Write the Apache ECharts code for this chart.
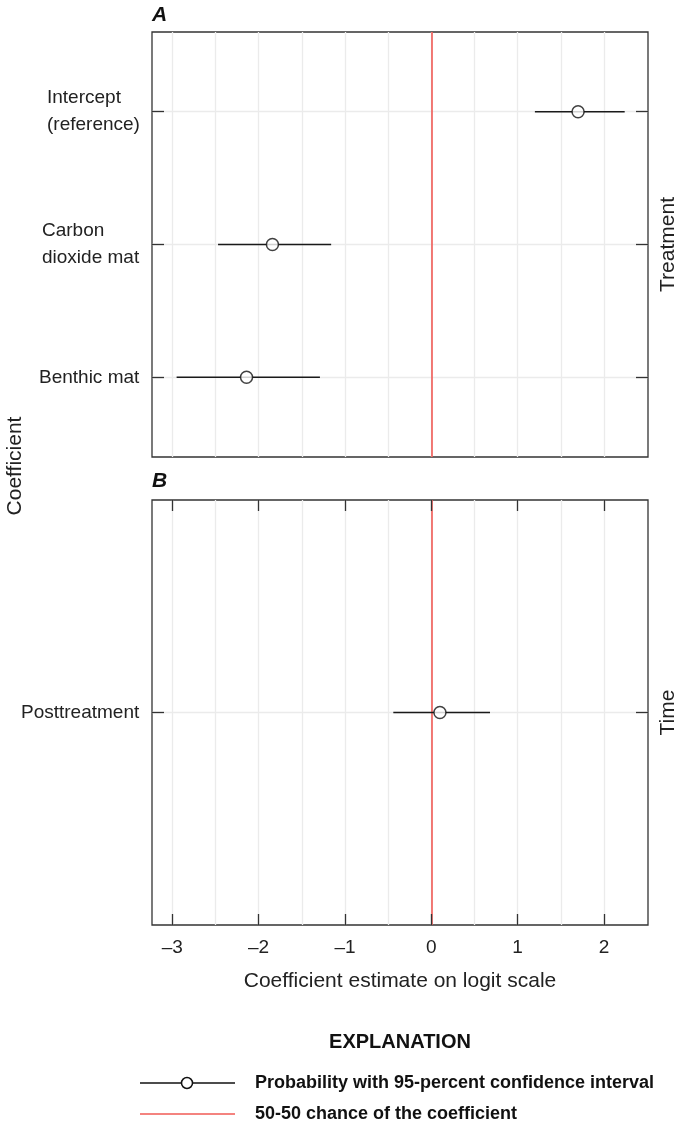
<!DOCTYPE html>
<html><head><meta charset="utf-8">
<script src="https://cdn.jsdelivr.net/npm/echarts@6/dist/echarts.min.js"></script>
<style>html,body{margin:0;padding:0;background:#fff}#c{width:676px;height:1124px}</style>
</head><body><div id="c"></div>
<script>
// ---------- data ----------
const treatmentLabels = ['Intercept\n(reference)', 'Carbon\ndioxide mat', 'Benthic mat'];
const treatmentEst  = [1.70, -1.84, -2.14];
const treatmentLow  = [1.20, -2.47, -2.95];
const treatmentHigh = [2.24, -1.16, -1.29];
const timeLabels = ['Posttreatment'];
const timeEst  = [0.10];
const timeLow  = [-0.44];
const timeHigh = [0.68];
const xTickValues = [-3, -2, -1, 0, 1, 2];
const xGridValues = [-3, -2.5, -2, -1.5, -1, -0.5, 0, 0.5, 1, 1.5, 2];
const referenceValue = [0];
const panelTitles = ['A', 'B'];
const facetTitles = ['Treatment', 'Time'];
const xTitle = 'Coefficient estimate on logit scale';
const yTitle = 'Coefficient';
const legendTitle = 'EXPLANATION';
const legendLabels = ['Probability with 95-percent confidence interval', '50-50 chance of the coefficient'];

// ---------- style ----------
const FONT = "'Liberation Sans',Arial,sans-serif";
const TXT = '#222';
const FRAME = '#333';
const RED = '#f05a55';
const GRIDC = '#ebebeb';
const X_MIN = -3.235, X_MAX = 2.51;
const LEFT = 152, WIDTH = 496;
const grids = [{top: 32, height: 425}, {top: 500, height: 425}];
const LABEL_SIZE = 19;

// measure text for left-aligned multi-line labels
const cv = document.createElement('canvas').getContext('2d');
cv.font = LABEL_SIZE + 'px ' + FONT;
function lw(s){ return Math.ceil(Math.max.apply(null, s.split('\n').map(t => cv.measureText(t).width))); }

function makeRich(labels){
  const rich = {};
  labels.forEach((s, i) => {
    rich['l' + i] = {fontFamily: FONT, fontSize: LABEL_SIZE, lineHeight: 27, color: TXT, align: 'left', width: lw(s)};
  });
  return rich;
}
function richFormatter(labels){
  return v => {
    const i = Math.round(v) - 1;
    const s = labels[i];
    if (s === undefined) return '';
    return s.split('\n').map(t => '{l' + i + '|' + t + '}').join('\n');
  };
}
const idx = arr => arr.map((_, i) => i + 1);

function yAxes(gi, labels, min, max, facet){
  const vals = idx(labels);
  return [
    {gridIndex: gi, type: 'value', inverse: true, min: min, max: max, position: 'left', z: 10,
     axisLine: {show: false, onZero: false}, splitLine: {show: false},
     axisTick: {show: true, inside: true, length: 12, customValues: vals, lineStyle: {color: FRAME, width: 1.3}},
     axisLabel: {show: true, customValues: vals, margin: 12, formatter: richFormatter(labels), rich: makeRich(labels)}},
    {gridIndex: gi, type: 'value', inverse: true, min: min, max: max, position: 'right', z: 10,
     axisLine: {show: false, onZero: false}, splitLine: {show: false},
     axisTick: {show: true, inside: true, length: 12, customValues: vals, lineStyle: {color: FRAME, width: 1.3}},
     axisLabel: {show: false},
     name: facet, nameLocation: 'middle', nameRotate: 90, nameGap: 10,
     nameTextStyle: {fontFamily: FONT, fontSize: 21, color: TXT}}
  ];
}

const xAxes = [
  {gridIndex: 0, type: 'value', min: X_MIN, max: X_MAX, position: 'bottom',
   axisLine: {show: false, onZero: false}, axisTick: {show: false}, axisLabel: {show: false}, splitLine: {show: false}},
  {gridIndex: 1, type: 'value', min: X_MIN, max: X_MAX, position: 'bottom', z: 10,
   axisLine: {show: false, onZero: false}, splitLine: {show: false},
   axisTick: {show: true, inside: true, length: 11, customValues: xTickValues, lineStyle: {color: FRAME, width: 1.3}},
   axisLabel: {show: true, customValues: xTickValues, margin: 13, fontFamily: FONT, fontSize: 19, color: TXT,
               formatter: v => v < 0 ? '\u2013' + Math.abs(v) : String(v)},
   name: xTitle, nameLocation: 'middle', nameGap: 46,
   nameTextStyle: {fontFamily: FONT, fontSize: 21, color: TXT}},
  {gridIndex: 1, type: 'value', min: X_MIN, max: X_MAX, position: 'top', z: 10,
   axisLine: {show: false, onZero: false}, splitLine: {show: false}, axisLabel: {show: false},
   axisTick: {show: true, inside: true, length: 11, customValues: xTickValues, lineStyle: {color: FRAME, width: 1.3}}}
];

function panelSeries(xi, yi, labels, est, low, high){
  const ys = idx(labels);
  return [
    {type: 'line', xAxisIndex: xi, yAxisIndex: yi, data: [], silent: true,
     markLine: {silent: true, z: 0, symbol: ['none', 'none'], label: {show: false},
       lineStyle: {color: GRIDC, width: 1.3, type: 'solid'},
       data: xGridValues.map(v => ({xAxis: v})).concat(ys.map(v => ({yAxis: v})))}},
    {type: 'line', xAxisIndex: xi, yAxisIndex: yi, data: [], silent: true,
     markLine: {silent: true, z: 1, symbol: ['none', 'none'], label: {show: false},
       lineStyle: {color: RED, width: 1.6, type: 'solid'},
       data: referenceValue.map(v => ({xAxis: v}))}},
    {type: 'custom', xAxisIndex: xi, yAxisIndex: yi, z: 3, silent: true,
     data: low.map((l, i) => [l, high[i], ys[i]]),
     encode: {x: [0, 1], y: 2},
     renderItem: (params, api) => {
       const y = api.value(2);
       const p1 = api.coord([api.value(0), y]);
       const p2 = api.coord([api.value(1), y]);
       return {type: 'line', shape: {x1: p1[0], y1: p1[1], x2: p2[0], y2: p2[1]},
               style: {stroke: '#1a1a1a', lineWidth: 1.5}};
     }},
    {type: 'scatter', xAxisIndex: xi, yAxisIndex: yi, z: 4, silent: true,
     data: est.map((e, i) => [e, ys[i]]),
     symbol: 'circle', symbolSize: 12,
     itemStyle: {color: '#fff', borderColor: '#111', borderWidth: 1.5}}
  ];
}

const option = {
  animation: false,
  backgroundColor: '#fff',
  textStyle: {fontFamily: FONT},
  grid: grids.map(g => ({left: LEFT, width: WIDTH, top: g.top, height: g.height, show: true,
                         containLabel: false, outerBoundsMode: 'none',
                         borderColor: FRAME, borderWidth: 1.3, backgroundColor: 'transparent'})),
  xAxis: xAxes,
  yAxis: yAxes(0, treatmentLabels, 0.4, 3.6, facetTitles[0]).concat(yAxes(1, timeLabels, 0, 2, facetTitles[1])),
  series: panelSeries(0, 0, treatmentLabels, treatmentEst, treatmentLow, treatmentHigh)
    .concat(panelSeries(1, 2, timeLabels, timeEst, timeLow, timeHigh)),
  graphic: [
    {type: 'text', left: 152, top: 5, style: {text: panelTitles[0], font: 'italic bold 21px ' + FONT, fill: '#111'}},
    {type: 'text', left: 152, top: 471, style: {text: panelTitles[1], font: 'italic bold 21px ' + FONT, fill: '#111'}},
    {type: 'text', x: 15, y: 466, rotation: Math.PI / 2,
     style: {text: yTitle, font: '21px ' + FONT, fill: TXT, align: 'center', verticalAlign: 'middle'}},
    {type: 'text', x: 400, y: 1042,
     style: {text: legendTitle, font: 'bold 20px ' + FONT, fill: '#111', align: 'center', verticalAlign: 'middle'}},
    {type: 'line', shape: {x1: 140, y1: 1083, x2: 235, y2: 1083}, style: {stroke: '#111', lineWidth: 1.5}},
    {type: 'circle', shape: {cx: 187, cy: 1083, r: 5.5}, style: {fill: '#fff', stroke: '#111', lineWidth: 1.5}},
    {type: 'text', x: 255, y: 1083,
     style: {text: legendLabels[0], font: 'bold 18px ' + FONT, fill: '#111', align: 'left', verticalAlign: 'middle'}},
    {type: 'line', shape: {x1: 140, y1: 1114, x2: 235, y2: 1114}, style: {stroke: RED, lineWidth: 1.6}},
    {type: 'text', x: 255, y: 1114,
     style: {text: legendLabels[1], font: 'bold 18px ' + FONT, fill: '#111', align: 'left', verticalAlign: 'middle'}}
  ]
};

const chart = echarts.init(document.getElementById('c'), null, {renderer: 'canvas'});
chart.setOption(option);
</script>
</body></html>
